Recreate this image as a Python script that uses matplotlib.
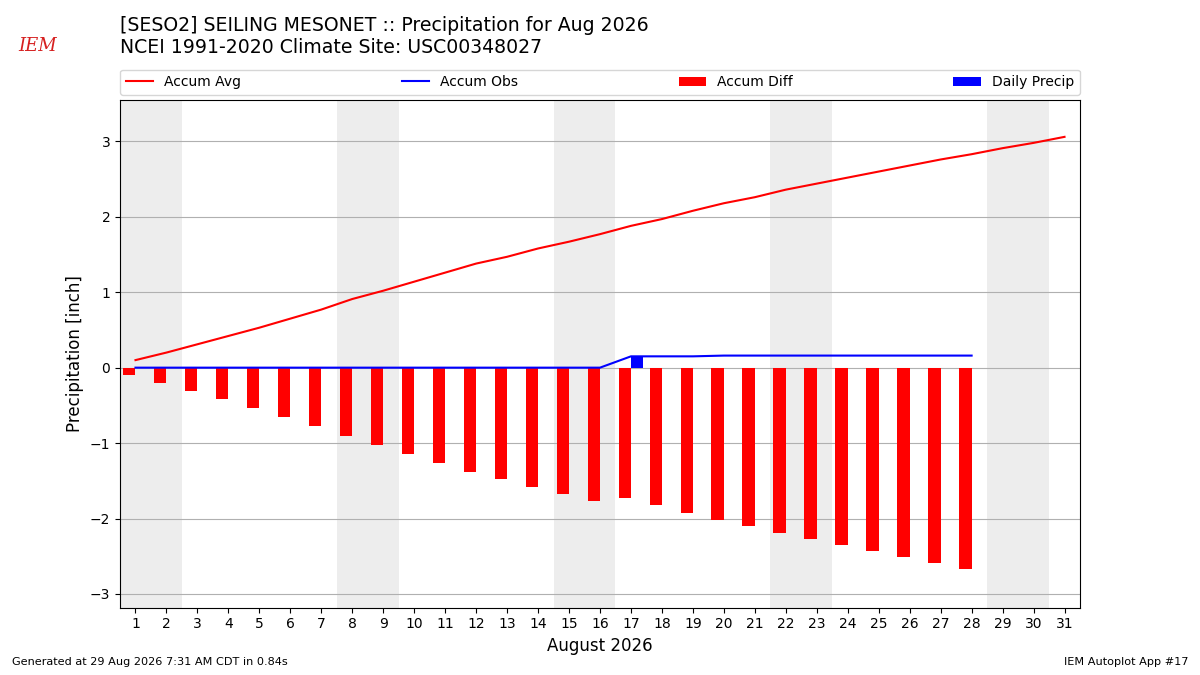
import numpy as np
import matplotlib
matplotlib.use('Agg')
import matplotlib.pyplot as plt

# days of August 2026
days = list(range(1, 32))
obs_days = list(range(1, 29))

# accumulated climatology (inch)
accum_avg = [0.10, 0.20, 0.31, 0.42, 0.53, 0.65, 0.77, 0.91, 1.02, 1.14,
             1.26, 1.38, 1.47, 1.58, 1.67, 1.77, 1.88, 1.97, 2.08, 2.18,
             2.26, 2.36, 2.44, 2.52, 2.60, 2.68, 2.76, 2.83, 2.91, 2.98, 3.06]

# accumulated observed (inch)
accum_obs = [0.0, 0.0, 0.0, 0.0, 0.0, 0.0, 0.0, 0.0, 0.0, 0.0,
             0.0, 0.0, 0.0, 0.0, 0.0, 0.0, 0.15, 0.15, 0.15, 0.16,
             0.16, 0.16, 0.16, 0.16, 0.16, 0.16, 0.16, 0.16]

# accumulated departure (inch)
accum_diff = [-0.10, -0.20, -0.31, -0.42, -0.53, -0.65, -0.77, -0.91, -1.02, -1.14,
              -1.26, -1.38, -1.47, -1.58, -1.67, -1.77, -1.73, -1.82, -1.93, -2.02,
              -2.10, -2.19, -2.27, -2.35, -2.43, -2.51, -2.59, -2.67]

# daily precip (inch)
daily_precip = [0, 0, 0, 0, 0, 0, 0, 0, 0, 0,
                0, 0, 0, 0, 0, 0, 0.15, 0, 0, 0,
                0, 0, 0, 0, 0, 0, 0, 0]

# saturdays (weekend shading)
weekends = [1, 8, 15, 22, 29]

fig = plt.figure(figsize=(12, 6.75), dpi=100)
ax = fig.add_axes([0.1, 0.1, 0.8, 0.752])

for sat in weekends:
    ax.axvspan(sat - 0.5, sat + 1.5, color='#EDEDED', zorder=0, lw=0)

ax.grid(axis='y', color='#b0b0b0', zorder=1)
ax.set_axisbelow(True)

l1, = ax.plot(days, accum_avg, color='r', lw=1.5, label='Accum Avg', zorder=3)
l2, = ax.plot(obs_days, accum_obs, color='b', lw=1.5, label='Accum Obs', zorder=3)
b1 = ax.bar(obs_days, accum_diff, width=-0.4, align='edge', color='r',
            label='Accum Diff', zorder=2)
b2 = ax.bar(obs_days, daily_precip, width=0.4, align='edge', color='b',
            label='Daily Precip', zorder=2)

ax.set_xlim(0.5, 31.5)
ax.set_ylim(-3.18, 3.55)
ax.set_xticks(days)
ax.set_yticks([-3, -2, -1, 0, 1, 2, 3])
ax.set_xlabel('August 2026', fontsize=12)
ax.set_ylabel('Precipitation [inch]', fontsize=12)

ax.legend(handles=[l1, l2, b1, b2], loc='lower left', bbox_to_anchor=(0, 1.01, 1, 0.102),
          mode='expand', ncol=4, borderaxespad=0, fontsize=10)

fig.text(0.1, 0.977, '[SESO2] SEILING MESONET :: Precipitation for Aug 2026\n'
         'NCEI 1991-2020 Climate Site: USC00348027', fontsize=13.6, va='top', ha='left')

# logo stand-in
fig.text(0.031, 0.932, 'IEM', color='#d62020', fontsize=13, family='DejaVu Serif',
         style='italic', ha='center', va='center')

fig.text(0.01, 0.015, 'Generated at 29 Aug 2026 7:31 AM CDT in 0.84s', fontsize=8.1)
fig.text(0.99, 0.015, 'IEM Autoplot App #17', fontsize=8.1, ha='right')

fig.savefig('out.png', dpi=100)
